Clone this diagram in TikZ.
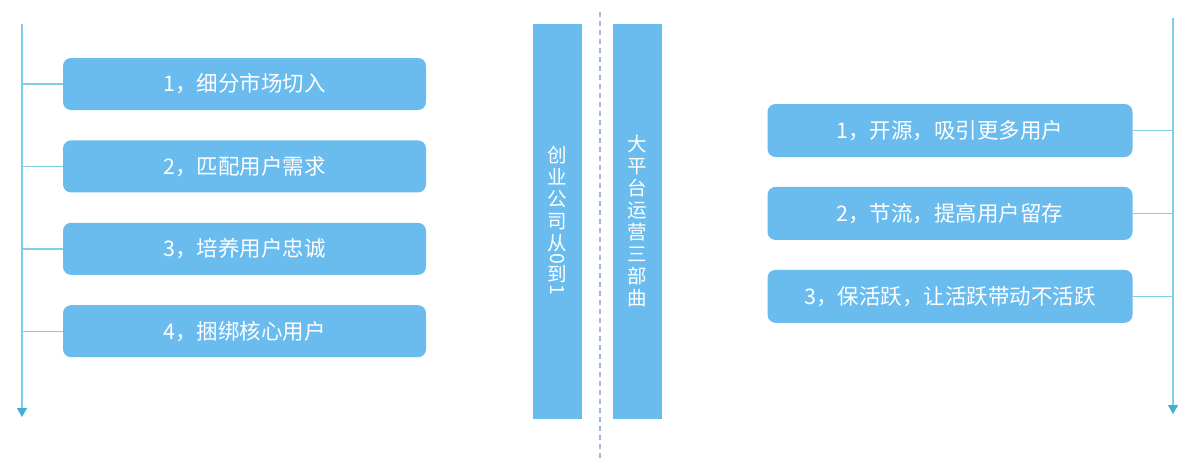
\documentclass[tikz,border=0pt]{standalone}
\usepackage{fontspec}
\newfontfamily\cjk{Noto Sans CJK SC}
\usepackage{graphicx}
\usetikzlibrary{arrows.meta}
\usetikzlibrary{positioning}

\definecolor{boxblue}{HTML}{6ABBEE}
\definecolor{linecyan}{HTML}{80CDE8}
\definecolor{tipcyan}{HTML}{3FB0D2}
\definecolor{dashgray}{HTML}{A3B6D2}

\begin{document}
\begin{tikzpicture}[x=1pt,y=-1pt,
    stepbox/.style={rectangle, rounded corners=8pt, fill=boxblue, text=white,
        font=\cjk\fontsize{21.5}{24}\selectfont, inner sep=0pt},
    bar/.style={rectangle, fill=boxblue, text=white, align=center, inner sep=0pt,
        minimum width=49pt, minimum height=395pt, font=\cjk\fontsize{19.5}{22}\selectfont},
    flow/.style={draw=linecyan, line width=1.4pt, -{Triangle[width=10pt,length=9pt,color=tipcyan]}},
    branch/.style={draw=linecyan, line width=1.4pt},
    every node/.style={node distance=30pt}
    ]
    \useasboundingbox (0,0) rectangle (1194,458);

    % left column
    \def\leftsteps{1，细分市场切入,2，匹配用户需求,3，培养用户忠诚,4，捆绑核心用户}
    \coordinate (ltop) at (22,24);
    \coordinate (lbot) at (22,417);
    \draw[flow] (ltop) -- (lbot);
    \foreach \txt[count=\i, remember=\i as \previ (initially 0)] in \leftsteps {
        \ifnum \i = 1
        \node[stepbox, minimum width=363pt, minimum height=52pt] (L\i) at (244.5,84) {\txt};
        \else
        \node[stepbox, minimum width=363pt, minimum height=52pt, below=of L\previ] (L\i) {\txt};
        \fi
        \draw[branch] (L\i.west) -- (L\i.west -| ltop);
    }

    % centre bars
    \node[bar] (startup) at (557.5,221.5)
        {创\\业\\公\\司\\从\\[-6.5pt]\rotatebox[origin=c]{-90}{0}\\[-6.5pt]到\\[-7pt]\rotatebox[origin=c]{-90}{1}};
    \node[bar] (platform) at (637.5,221.5)
        {大\\平\\台\\运\\营\\三\\部\\曲};
    \coordinate (dtop) at (600,12);
    \coordinate (dbot) at (600,458);
    \draw[dashgray, line width=1.5pt, dash pattern=on 5pt off 4pt] (dtop) -- (dbot);

    % right column
    \def\rightsteps{1，开源，吸引更多用户,2，节流，提高用户留存,3，保活跃，让活跃带动不活跃}
    \coordinate (rtop) at (1173,18);
    \coordinate (rbot) at (1173,414);
    \draw[flow] (rtop) -- (rbot);
    \foreach \txt[count=\i, remember=\i as \previ (initially 0)] in \rightsteps {
        \ifnum \i = 1
        \node[stepbox, minimum width=365pt, minimum height=53pt] (R\i) at (950,130.5) {\txt};
        \else
        \node[stepbox, minimum width=365pt, minimum height=53pt, below=29.5pt of R\previ] (R\i) {\txt};
        \fi
        \draw[branch] (R\i.east) -- (R\i.east -| rtop);
    }
\end{tikzpicture}
\end{document}
